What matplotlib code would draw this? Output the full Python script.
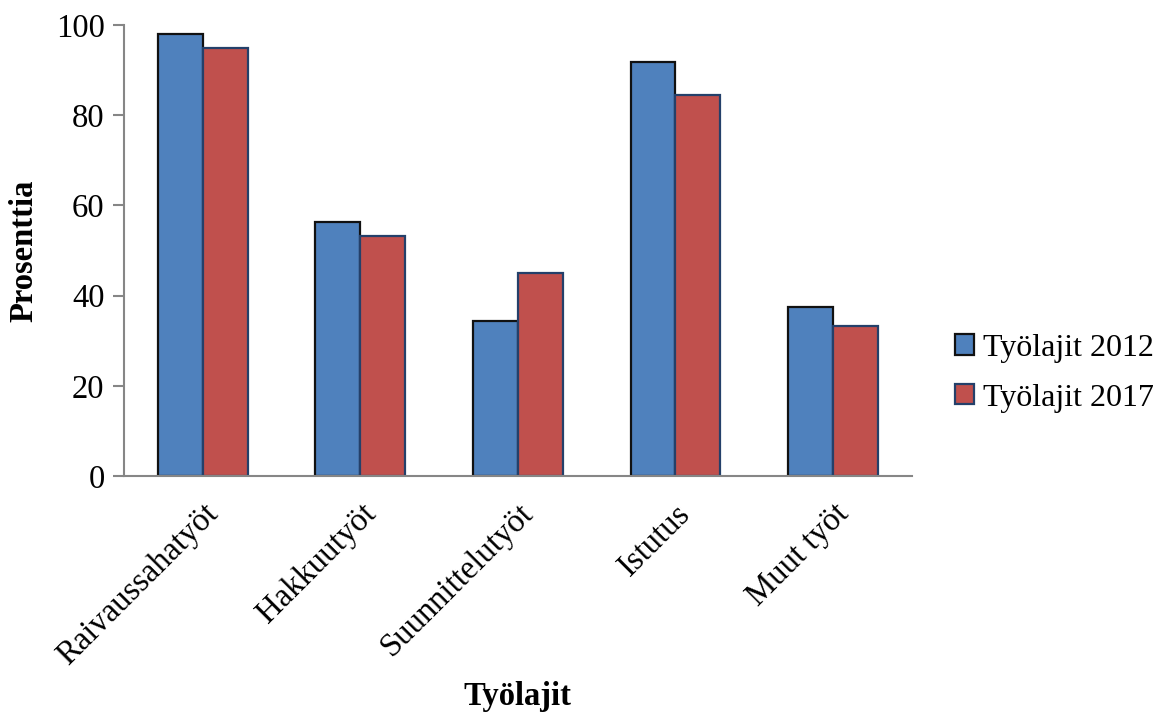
import numpy as np
import matplotlib.pyplot as plt

plt.rcParams['font.family'] = ['Liberation Serif', 'DejaVu Serif']

categories = ['Raivaussahatyöt', 'Hakkuutyöt', 'Suunnittelutyöt', 'Istutus', 'Muut työt']
values_2012 = [98.0, 56.3, 34.4, 91.7, 37.5]
values_2017 = [94.9, 53.2, 44.9, 84.5, 33.3]
series_labels = ['Työlajit 2012', 'Työlajit 2017']

fig = plt.figure(figsize=(11.63, 7.13), dpi=100)
ax = fig.add_axes([0.1066, 0.3324, 0.6774, 0.6326])

x = np.arange(len(categories))
w = 0.285
ax.bar(x - w / 2, values_2012, w, color='#4f81bd', edgecolor='#111111',
       linewidth=1.6, label=series_labels[0])
ax.bar(x + w / 2, values_2017, w, color='#c0504d', edgecolor='#24406a',
       linewidth=1.6, label=series_labels[1])

ax.set_xlim(-0.5, len(categories) - 0.5)
ax.set_ylim(0, 100)
ax.set_yticks(range(0, 101, 20))
ax.set_xticks(x)
ax.set_xticklabels(categories, rotation=45, ha='right', rotation_mode='anchor')

for side in ['top', 'right']:
    ax.spines[side].set_visible(False)
for side in ['left', 'bottom']:
    ax.spines[side].set_color('#868686')
    ax.spines[side].set_linewidth(1.5)

ax.tick_params(axis='y', direction='out', length=8, width=1.5, color='#868686',
               labelsize=23.5, pad=6)
ax.tick_params(axis='x', length=0, labelsize=23.5, pad=16)

ax.set_ylabel('Prosenttia', fontsize=23.5, fontweight='bold')
ax.yaxis.set_label_coords(-0.107, 0.5)
ax.set_xlabel('Työlajit', fontsize=23.5, fontweight='bold')
ax.xaxis.set_label_coords(0.5, -0.455)

ax.legend(loc='center left', bbox_to_anchor=(1.018, 0.228), frameon=False,
          fontsize=23, handlelength=0.6, handleheight=0.6, handletextpad=0.3,
          labelspacing=0.65)

fig.savefig('out.png', dpi=100)
